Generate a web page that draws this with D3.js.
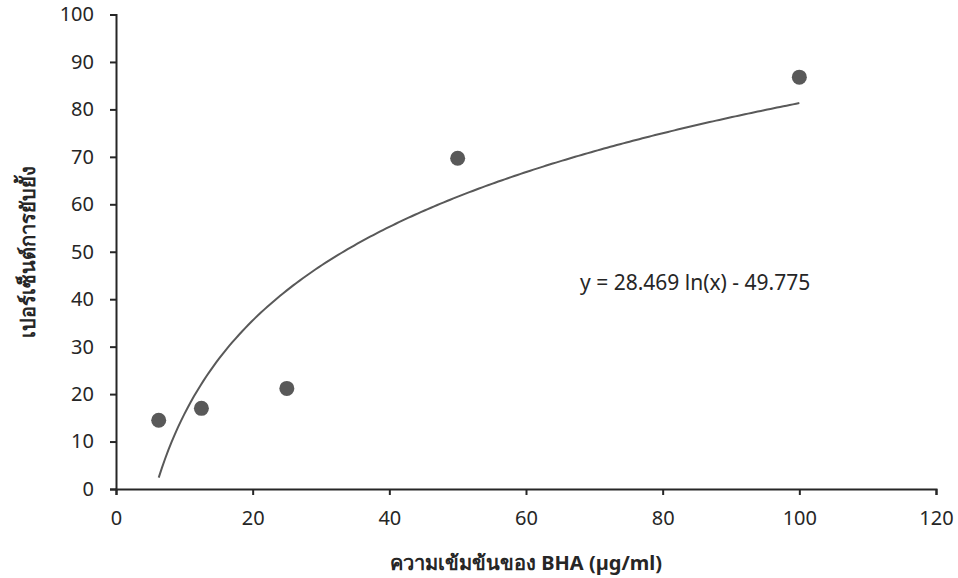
<!DOCTYPE html>
<html>
<head>
<meta charset="utf-8">
<script src="https://cdn.jsdelivr.net/npm/d3@7"></script>
<style>
  body { margin: 0; background: #fff; }
  svg { display: block; }
  .tick text { font-family: "Noto Sans", sans-serif; font-size: 20px; fill: #262626; }
</style>
</head>
<body>
<svg id="chart" width="958" height="578"></svg>
<script>
// concentration (µg/ml) vs % inhibition
const concentrations = [6.25, 12.5, 25, 50, 100];
const inhibition = [14.5, 17.0, 21.2, 69.7, 86.8];
const xTicks = [0, 20, 40, 60, 80, 100, 120];
const yTicks = [0, 10, 20, 30, 40, 50, 60, 70, 80, 90, 100];
// log trendline coefficients, as printed on the chart
const trendA = 28.469;
const trendB = -49.775;

const svg = d3.select("#chart");
const margin = { left: 116, right: 22, top: 14.5, bottom: 89 };
const W = 958, H = 578;

const x = d3.scaleLinear().domain([0, 120]).range([margin.left, W - margin.right]);
const y = d3.scaleLinear().domain([0, 100]).range([H - margin.bottom, margin.top]);

const xAxis = svg.append("g")
    .attr("transform", `translate(0,${y(0)})`)
    .call(d3.axisBottom(x).tickValues(xTicks).tickSize(6).tickPadding(16));
const yAxis = svg.append("g")
    .attr("transform", `translate(${x(0)},0)`)
    .call(d3.axisLeft(y).tickValues(yTicks).tickSize(6).tickPadding(16));

[xAxis, yAxis].forEach(a => {
    a.select(".domain").attr("stroke", "#262626").attr("stroke-width", 2);
    a.selectAll(".tick line").attr("stroke", "#262626").attr("stroke-width", 2);
});

// trendline sampled from the printed equation
const xs = d3.range(0, 201).map(i => concentrations[0] + i * (concentrations[concentrations.length - 1] - concentrations[0]) / 200);
svg.append("path")
    .datum(xs)
    .attr("fill", "none")
    .attr("stroke", "#595959")
    .attr("stroke-width", 2)
    .attr("d", d3.line().x(d => x(d)).y(d => y(trendA * Math.log(d) + trendB)));

svg.selectAll(".pt")
    .data(concentrations.map((c, i) => [c, inhibition[i]]))
    .join("circle")
    .attr("class", "pt")
    .attr("cx", d => x(d[0]))
    .attr("cy", d => y(d[1]))
    .attr("r", 7.5)
    .attr("fill", "#595959");

svg.append("text")
    .attr("x", 580).attr("y", 290)
    .style("font-family", '"Noto Sans", sans-serif')
    .style("font-size", "21px")
    .style("fill", "#262626")
    .text("y = 28.469 ln(x) - 49.775");

svg.append("text")
    .attr("x", (x(0) + x(120)) / 2).attr("y", 570)
    .attr("text-anchor", "middle")
    .style("font-family", '"Noto Sans", sans-serif')
    .style("font-size", "20px")
    .style("font-weight", "bold")
    .style("fill", "#262626")
    .text("ความเข้มข้นของ BHA (µg/ml)");

svg.append("text")
    .attr("transform", `translate(35,${(y(0) + y(100)) / 2}) rotate(-90)`)
    .attr("text-anchor", "middle")
    .style("font-family", '"Noto Sans", sans-serif')
    .style("font-size", "20px")
    .style("font-weight", "bold")
    .style("fill", "#262626")
    .text("เปอร์เซ็นต์การยับยั้ง");
</script>
</body>
</html>
